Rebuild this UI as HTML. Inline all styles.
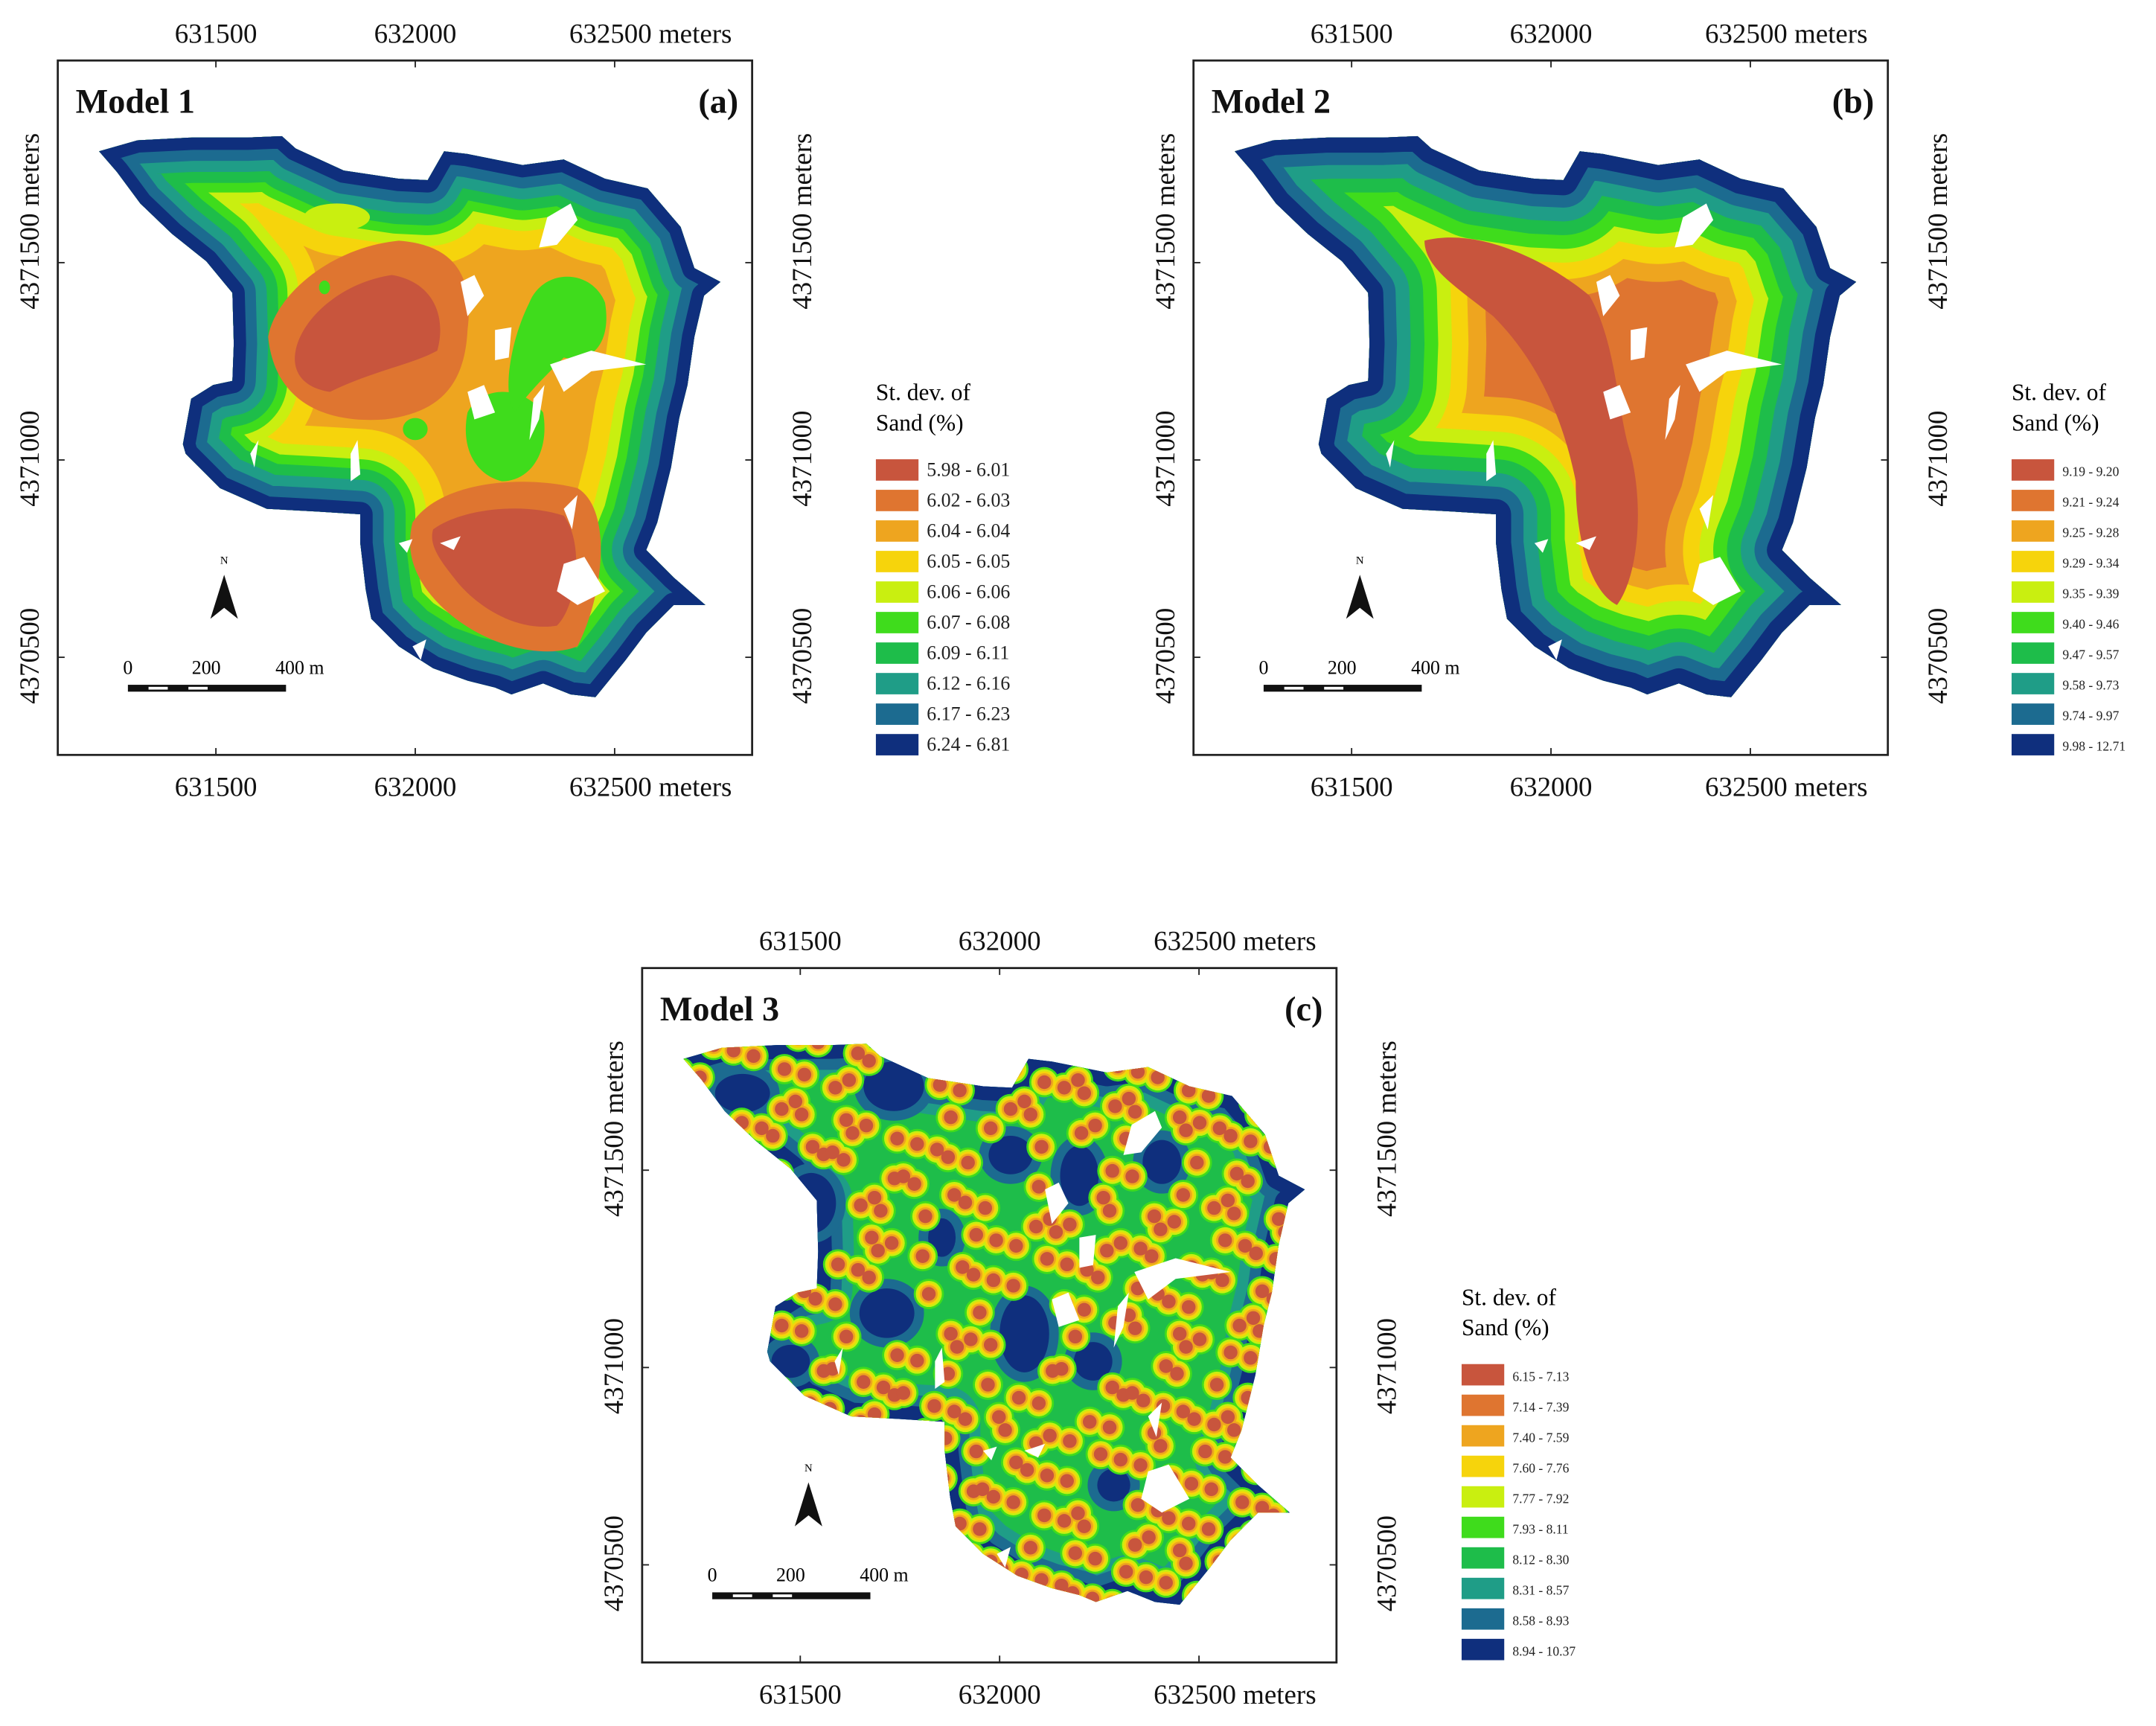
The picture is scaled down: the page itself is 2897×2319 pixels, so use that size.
<!DOCTYPE html>
<html><head><meta charset="utf-8"><style>
html,body{margin:0;padding:0;background:#fff;}
svg{display:block;font-family:"Liberation Serif",serif;}
</style></head><body>
<svg id="fig" width="2897" height="2319" viewBox="0 0 1568 1255.2" xmlns="http://www.w3.org/2000/svg">
<defs id="defs"></defs>
</svg>
<script>
const legendA=["5.98 - 6.01","6.02 - 6.03","6.04 - 6.04","6.05 - 6.05","6.06 - 6.06","6.07 - 6.08","6.09 - 6.11","6.12 - 6.16","6.17 - 6.23","6.24 - 6.81"];
const legendB=["9.19 - 9.20","9.21 - 9.24","9.25 - 9.28","9.29 - 9.34","9.35 - 9.39","9.40 - 9.46","9.47 - 9.57","9.58 - 9.73","9.74 - 9.97","9.98 - 12.71"];
const legendC=["6.15 - 7.13","7.14 - 7.39","7.40 - 7.59","7.60 - 7.76","7.77 - 7.92","7.93 - 8.11","8.12 - 8.30","8.31 - 8.57","8.58 - 8.93","8.94 - 10.37"];
const eastTicks=[631500,632000,632500];
const northTicks=[4371500,4371000,4370500];
const panelTitles=["Model 1","Model 2","Model 3"];
const panelLetters=["(a)","(b)","(c)"];
const COLORS=["#c8553d","#df7530","#eea51f","#f6d40c","#c9ef10","#3fdc1c","#1ebd4a","#1f9d87","#1c6b90","#0f2f7d"];
const NS="http://www.w3.org/2000/svg";
const svg=document.getElementById('fig');
const defs=document.getElementById('defs');
function el(tag,attrs,parent){const e=document.createElementNS(NS,tag);for(const k in attrs)e.setAttribute(k,attrs[k]);(parent||svg).appendChild(e);return e;}
const outline=[[72,110],[100,102],[140,100],[180,100],[205,99],[215,108],[250,124],[290,130],[311,131],[323,110],[340,112],[380,120],[410,116],[440,130],[471,137],[495,165],[505,195],[524,205],[512,215],[505,245],[500,280],[494,304],[488,340],[478,380],[470,400],[490,420],[513,440],[490,440],[470,460],[455,480],[433,507],[415,505],[395,497],[372,505],[360,500],[340,495],[315,486],[290,470],[270,450],[266,429],[262,395],[262,374],[230,372],[194,370],[160,355],[135,330],[133,323],[139,290],[155,280],[169,277],[170,250],[169,213],[150,190],[125,170],[102,148],[85,125]];
const ptsStr=outline.map(p=>p.join(',')).join(' ');
const cp=el('clipPath',{id:'shape'},defs);
el('polygon',{points:ptsStr},cp);
const xScale=e=>157+(e-631500)*145/500;
const yScale=n=>191+(4371500-n)*143.5/500;
const lakes=["335,205 345,200 352,215 340,230","398,158 415,148 420,160 405,178 392,180","360,240 372,238 370,260 360,262","400,265 430,255 470,265 430,270 410,285","388,290 396,280 392,305 385,320","340,285 352,280 360,300 345,305","320,395 335,390 330,400","410,410 425,405 440,430 420,440 405,430","410,370 420,360 416,385","300,470 310,465 306,480","182,330 188,320 185,340","255,330 260,320 262,345 255,350","290,395 300,392 296,402"];
function drawLakes(g){lakes.forEach(l=>{const p=el('polygon',{points:l,fill:'#fff'},g);});}
function bands(g,cum,fill){
  el('polygon',{points:ptsStr,fill:fill},g);
  for(let i=0;i<cum.length;i++){el('polygon',{points:ptsStr,fill:'none',stroke:cum[i][1],'stroke-width':2*cum[i][0],'stroke-linejoin':'round'},g);}
}
function panel(idx,dx,dy,legend,legX,legY,legStep,legFont){
  const g=el('g',{transform:`translate(${dx},${dy})`});
  
  
  const m=el('g',{'clip-path':'url(#shape)'},g);
  
  
  if(idx===0){
    bands(m,[[62,COLORS[3]],[48,COLORS[4]],[40,COLORS[5]],[33,COLORS[6]],[25,COLORS[7]],[17,COLORS[8]],[9,COLORS[9]]],COLORS[2]);
    el('ellipse',{cx:245,cy:158,rx:24,ry:10,fill:COLORS[4]},m);
    el('path',{d:'M195,245 C200,215 240,180 290,175 C330,178 345,200 340,240 C338,280 320,300 280,305 C240,308 200,295 195,245Z',fill:COLORS[1]},m);
    el('path',{d:'M215,255 C220,230 250,205 285,200 C315,205 325,230 318,255 C300,265 270,270 240,285 C220,282 212,270 215,255Z',fill:COLORS[0]},m);
    el('path',{d:'M300,380 C320,350 380,345 420,355 C445,370 440,430 420,470 C395,480 350,470 320,440 C300,420 295,400 300,380Z',fill:COLORS[1]},m);
    el('path',{d:'M315,385 C335,370 380,365 410,375 C425,395 420,440 405,455 C375,460 345,440 330,420 C318,405 312,395 315,385Z',fill:COLORS[0]},m);
    el('path',{d:'M340,300 C350,280 380,280 395,300 C400,330 385,350 365,350 C345,345 335,325 340,300Z',fill:COLORS[5]},m);
    el('path',{d:'M385,220 C395,195 430,195 440,220 C445,250 430,265 410,260 C395,275 380,290 375,300 C365,290 370,250 385,220Z',fill:COLORS[5]},m);
    el('ellipse',{cx:302,cy:312,rx:9,ry:8,fill:COLORS[5]},m);
    el('ellipse',{cx:236,cy:209,rx:4,ry:5,fill:COLORS[5]},m);
  } else if(idx===1){
    bands(m,[[85,COLORS[2]],[72,COLORS[3]],[60,COLORS[4]],[50,COLORS[5]],[40,COLORS[6]],[30,COLORS[7]],[20,COLORS[8]],[11,COLORS[9]]],COLORS[1]);
    el('path',{d:'M210,175 C250,165 300,190 330,215 C350,250 350,300 360,330 C370,370 365,420 350,440 C330,430 320,390 320,350 C310,300 290,260 260,230 C235,210 210,195 210,175Z',fill:COLORS[0]},m);
  } else {
    bands(m,[[26,COLORS[7]],[18,COLORS[8]],[10,COLORS[9]]],COLORS[6]);
    const holes=[[115,135,20,14],[225,130,22,18],[165,215,18,22],[310,180,16,14],[360,195,14,22],[320,310,18,28],[220,295,20,18],[370,330,14,14],[420,185,14,16],[150,330,14,12],[385,420,12,12],[260,240,10,14]];
    holes.forEach(h=>{el('ellipse',{cx:h[0],cy:h[1],rx:h[2]+7,ry:h[3]+7,fill:COLORS[8]},m);el('ellipse',{cx:h[0],cy:h[1],rx:h[2],ry:h[3],fill:COLORS[9]},m);});
    const dots=[];
    for(let i=0;i<26;i++)for(let j=0;j<24;j++){
      if((i*3+j*5)%7===0||(i*5+j*2)%11===0)continue;
      const x=55+i*18.5+((i*7+j*13)%9-4)*2, y=100+j*17.5+((i*11+j*3)%9-4)*2;
      if(holes.some(h=>Math.hypot((x-h[0])/(h[2]+6),(y-h[1])/(h[3]+6))<1))continue;
      dots.push([x,y]);
    }
    [[11,COLORS[5]],[9.5,COLORS[4]],[8,COLORS[3]],[6.5,COLORS[2]],[5,COLORS[0]]].forEach(([r,c])=>dots.forEach(d=>el('circle',{cx:d[0],cy:d[1],r:r,fill:c},m)));
  }
  drawLakes(m);
  const fr=el('rect',{x:42,y:44,width:505,height:505,fill:'none',stroke:'#222','stroke-width':1.5},g);
  
  eastTicks.forEach((e,k)=>{
    const x=xScale(e);
    el('line',{x1:x,y1:44,x2:x,y2:49,stroke:'#222'},g);el('line',{x1:x,y1:544,x2:x,y2:549,stroke:'#222'},g);
    const lab=k===2?e+' meters':String(e);
    const off=k===2?-33:0;const anc=k===2?'start':'middle';
    const t1=el('text',{x:x+off,y:31,'font-size':20,'text-anchor':anc,fill:'#111'},g);t1.textContent=lab;
    
    const t2=el('text',{x:x+off,y:579,'font-size':20,'text-anchor':anc,fill:'#111'},g);t2.textContent=lab;
    
  });
  northTicks.forEach((n,k)=>{
    const y=yScale(n);
    el('line',{x1:42,y1:y,x2:47,y2:y,stroke:'#222'},g);el('line',{x1:542,y1:y,x2:547,y2:y,stroke:'#222'},g);
    const lab=k===0?n+' meters':String(n);
    const sy=y+34;
    [28,590].forEach(xx=>{
      const t=el('text',{x:0,y:0,'font-size':20,'text-anchor':'start',fill:'#111',transform:`translate(${xx},${sy}) rotate(-90)`},g);t.textContent=lab;
      
    });
  });
  const tt=el('text',{x:55,y:82,'font-size':25,'font-weight':'bold',fill:'#111'},g);tt.textContent=panelTitles[idx];
  
  const tl=el('text',{x:537,y:82,'font-size':25,'font-weight':'bold','text-anchor':'end',fill:'#111'},g);tl.textContent=panelLetters[idx];
  
  const na=el('g',{},g);
  el('polygon',{points:'163,418 153,450 163,442 173,450',fill:'#111'},na);
  const nt=el('text',{x:163,y:410,'font-size':8,'text-anchor':'middle'},na);nt.textContent='N';
  const sb=el('g',{},g);
  el('rect',{x:93,y:498,width:115,height:5,fill:'#111'},sb);
  el('rect',{x:108,y:499.5,width:14,height:2,fill:'#fff'},sb);el('rect',{x:137,y:499.5,width:14,height:2,fill:'#fff'},sb);
  [['0',93],['200',150],['400 m',218]].forEach(([s,x])=>{const t=el('text',{x:x,y:490,'font-size':14,'text-anchor':'middle'},sb);t.textContent=s;});
  const lg=el('g',{},svg);
  const l1=el('text',{x:legX,y:legY-43,'font-size':17},lg);l1.textContent='St. dev. of';
  const l2=el('text',{x:legX,y:legY-21,'font-size':17},lg);l2.textContent='Sand (%)';
  legend.forEach((s,k)=>{
    const r=el('rect',{x:legX,y:legY+k*legStep,width:31,height:legStep*0.7,fill:COLORS[k]},lg);
    
    const t=el('text',{x:legX+37,y:legY+k*legStep+legStep*0.55,'font-size':legFont,fill:'#222'},lg);t.textContent=s;
    
  });
}
panel(0,0,0,legendA,637,334,22.2,14);
panel(1,826,0,legendB,1463,334,22.2,9.5);
panel(2,425,660,legendC,1063,992,22.2,9.5);
</script>
</body></html>
